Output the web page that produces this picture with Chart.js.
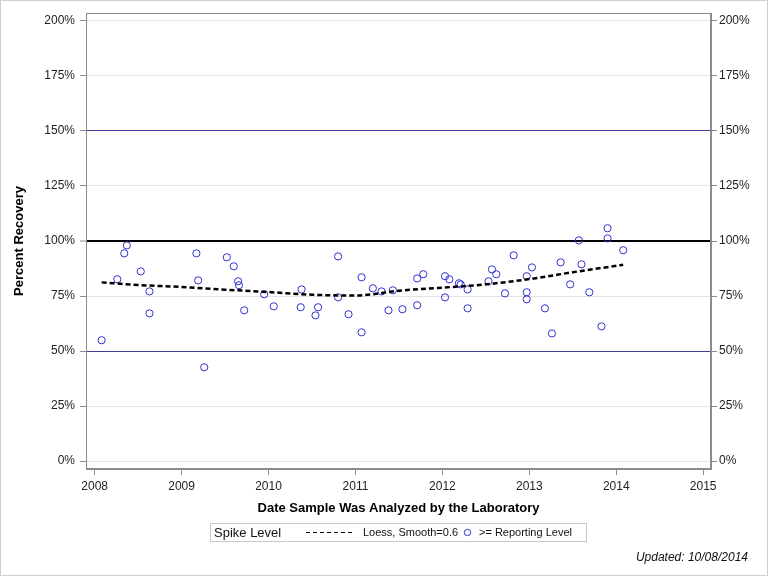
<!DOCTYPE html>
<html>
<head>
<meta charset="utf-8">
<script src="https://cdn.jsdelivr.net/npm/chart.js@4/dist/chart.umd.min.js"></script>
<style>
  html, body { margin: 0; padding: 0; background: #fff; }
  #wrap { position: relative; width: 768px; height: 576px; }
  canvas { display: block; }
</style>
</head>
<body>
<div id="wrap"><canvas id="c" width="768" height="576"></canvas></div>
<script>
// ---- data ----
const sampleYears = [
  2008.08, 2008.26, 2008.34, 2008.37, 2008.53, 2008.63, 2008.63,
  2009.17, 2009.19, 2009.26, 2009.52, 2009.60, 2009.65, 2009.66, 2009.72, 2009.95,
  2010.06, 2010.37, 2010.38, 2010.54, 2010.57, 2010.80, 2010.80, 2010.92,
  2011.07, 2011.07, 2011.20, 2011.30, 2011.38, 2011.43, 2011.54, 2011.71, 2011.71, 2011.78,
  2012.03, 2012.03, 2012.08, 2012.19, 2012.21, 2012.29, 2012.29, 2012.53, 2012.57, 2012.62, 2012.72,
  2012.82, 2012.97, 2012.97, 2012.97, 2013.03, 2013.18, 2013.26, 2013.36, 2013.47, 2013.57, 2013.60,
  2013.69, 2013.83, 2013.90, 2013.90, 2014.08
];
const recoveryPct = [
  54.9, 82.6, 94.4, 98.0, 86.2, 77.1, 67.1,
  94.4, 82.1, 42.6, 92.6, 88.5, 81.7, 79.9, 68.5, 75.8,
  70.3, 69.9, 78.0, 66.2, 69.9, 93.0, 74.4, 66.7,
  83.5, 58.5, 78.5, 77.1, 68.5, 77.6, 69.0, 83.0, 70.8, 84.9,
  84.0, 74.4, 82.6, 80.8, 80.3, 78.0, 69.4, 81.7, 87.1, 84.9, 76.2,
  93.5, 84.0, 76.7, 73.5, 88.0, 69.4, 58.0, 90.3, 80.3, 100.3, 89.4,
  76.7, 61.2, 105.8, 101.2, 95.8
];
const loessYears = [2008.08, 2008.5, 2009, 2009.5, 2010, 2010.5, 2011, 2011.5, 2012, 2012.5, 2013, 2013.5, 2014.08];
const loessPct   = [81.2,    80.0,   79.1, 77.9,   76.8, 75.6,   75.2, 77.4,   78.8, 80.3,   82.7, 85.8,   89.2];
const yTickValues = [0, 25, 50, 75, 100, 125, 150, 175, 200];
const xTickValues = [2008, 2009, 2010, 2011, 2012, 2013, 2014, 2015];
const seriesNames = ['Loess, Smooth=0.6', '>= Reporting Level'];
const legendTitle = 'Spike Level';
const xTitle = 'Date Sample Was Analyzed by the Laboratory';
const yTitle = 'Percent Recovery';
const footnote = 'Updated: 10/08/2014';

// ---- styles ----
const FONT = '"Liberation Sans", Arial, Helvetica, sans-serif';
const AXIS_GRAY = '#8c8c8c';
const MARKER_BLUE = '#3030d0';
const REF_NAVY = '#3d3d9c';

Chart.defaults.font.family = FONT;
Chart.defaults.color = '#222';

const tickFmt = v => v + '%';

const chromePlugin = {
  id: 'chrome',
  beforeDatasetsDraw(chart) {
    const ctx = chart.ctx, a = chart.chartArea;
    ctx.save();
    ctx.strokeStyle = AXIS_GRAY;
    ctx.lineWidth = 1;
    ctx.strokeRect(Math.round(a.left) + 0.5, Math.round(a.top) + 0.5,
                   Math.round(a.right - a.left) - 1, Math.round(a.bottom - a.top) - 1);
    ctx.restore();
  },
  afterDraw(chart) {
    const ctx = chart.ctx;
    ctx.save();
    // outer border
    ctx.strokeStyle = '#cfcfcf';
    ctx.lineWidth = 1;
    ctx.strokeRect(0.5, 0.5, 767, 575);
    // legend box
    ctx.strokeStyle = '#c8c8c8';
    ctx.strokeRect(210.5, 523.5, 376, 18);
    ctx.fillStyle = '#111';
    ctx.textBaseline = 'middle';
    ctx.textAlign = 'left';
    ctx.font = '13px ' + FONT;
    ctx.fillText(legendTitle, 214, 533);
    // dashed line sample
    ctx.strokeStyle = '#000';
    ctx.lineWidth = 1;
    ctx.setLineDash([4, 3]);
    ctx.beginPath();
    ctx.moveTo(306, 532.5);
    ctx.lineTo(353, 532.5);
    ctx.stroke();
    ctx.setLineDash([]);
    ctx.font = '11px ' + FONT;
    ctx.fillText(seriesNames[0], 363, 533);
    // marker sample
    ctx.strokeStyle = MARKER_BLUE;
    ctx.beginPath();
    ctx.arc(467.5, 532.5, 3.2, 0, Math.PI * 2);
    ctx.stroke();
    ctx.fillText(seriesNames[1], 479, 533);
    // footnote
    ctx.font = 'italic 12px ' + FONT;
    ctx.textAlign = 'right';
    ctx.fillStyle = '#111';
    ctx.fillText(footnote, 748, 558);
    ctx.restore();
  }
};

const yGrid = {
  drawOnChartArea: true,
  color: c => {
    const v = c.tick ? c.tick.value : null;
    if (v === 100) return '#000';
    if (v === 50 || v === 150) return REF_NAVY;
    return '#e3e3e3';
  },
  lineWidth: c => (c.tick && c.tick.value === 100) ? 2 : 1,
  tickColor: AXIS_GRAY,
  tickWidth: 1,
  tickLength: 6
};

new Chart(document.getElementById('c'), {
  type: 'scatter',
  data: {
    datasets: [
      {
        type: 'line',
        label: seriesNames[0],
        data: loessYears.map((x, i) => ({ x: x, y: loessPct[i] })),
        borderColor: '#000',
        borderWidth: 2.5,
        borderDash: [5, 3],
        pointRadius: 0,
        cubicInterpolationMode: 'monotone',
        fill: false,
        yAxisID: 'y'
      },
      {
        label: seriesNames[1],
        data: sampleYears.map((x, i) => ({ x: x, y: recoveryPct[i] })),
        pointStyle: 'circle',
        pointRadius: 3.6,
        pointBorderWidth: 1,
        borderColor: MARKER_BLUE,
        backgroundColor: 'rgba(255,255,255,0)',
        pointBackgroundColor: 'rgba(255,255,255,0)',
        yAxisID: 'y'
      }
    ]
  },
  options: {
    responsive: false,
    animation: false,
    devicePixelRatio: 1,
    layout: { padding: { left: 8, right: 0, top: 13, bottom: 56 } },
    plugins: {
      legend: { display: false },
      tooltip: { enabled: false }
    },
    scales: {
      x: {
        type: 'linear',
        position: 'bottom',
        min: 2007.9,
        max: 2015.09,
        afterBuildTicks: s => { s.ticks = xTickValues.map(v => ({ value: v })); },
        afterFit: s => { s.height = 51; },
        ticks: { callback: v => String(v), font: { size: 12 }, color: '#222', padding: 4, maxRotation: 0, autoSkip: false },
        grid: { drawOnChartArea: false, tickColor: AXIS_GRAY, tickLength: 6 },
        border: { color: AXIS_GRAY },
        title: { display: true, text: xTitle, font: { size: 13, weight: 'bold' }, color: '#000', padding: { top: 4, bottom: 4 } }
      },
      y: {
        type: 'linear',
        position: 'left',
        min: -3.6,
        max: 203.6,
        afterBuildTicks: s => { s.ticks = yTickValues.map(v => ({ value: v })); },
        afterFit: s => { s.width = 78; },
        ticks: { callback: tickFmt, font: { size: 12 }, color: '#222', padding: 5 },
        grid: yGrid,
        border: { color: AXIS_GRAY },
        title: { display: true, text: yTitle, font: { size: 13, weight: 'bold' }, color: '#000', padding: { top: 4, bottom: 4 } }
      },
      y2: {
        type: 'linear',
        position: 'right',
        min: -3.6,
        max: 203.6,
        afterBuildTicks: s => { s.ticks = yTickValues.map(v => ({ value: v })); },
        afterFit: s => { s.width = 57; },
        ticks: { callback: tickFmt, font: { size: 12 }, color: '#222', padding: 2 },
        grid: { drawOnChartArea: false, tickColor: AXIS_GRAY, tickLength: 6 },
        border: { color: AXIS_GRAY }
      }
    }
  },
  plugins: [chromePlugin]
});
</script>
</body>
</html>
